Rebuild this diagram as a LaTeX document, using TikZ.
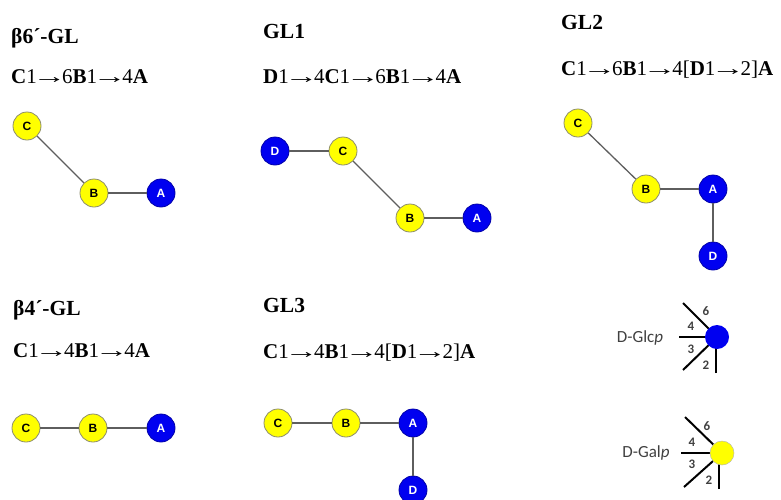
\documentclass[tikz,border=0pt]{standalone}
\usepackage{fontspec}
\setmainfont{Liberation Serif}
\newfontfamily\lblfont{Liberation Sans}
\newfontfamily\keyfont{Carlito}
\usepackage{xcolor}
\definecolor{glyellow}{HTML}{FFFF00}
\definecolor{glblue}  {HTML}{0000F0}
\definecolor{gledge}  {HTML}{8C8C6E}
\definecolor{gllink}  {HTML}{5E5E5E}
\definecolor{keytext} {HTML}{404040}
\newcommand\glto{\makebox[1.2em]{\scalebox{1.6}[1]{→}}}
\tikzset{
  gal/.style={circle, draw=gledge, fill=glyellow, text=black,
    minimum size=28pt, inner sep=0pt, line width=0.8pt,
    font=\lblfont\bfseries\fontsize{12}{12}\selectfont},
  glc/.style={gal, fill=glblue, draw=glblue!70!black, text=white},
  lnk/.style={draw=gllink, line width=1.3pt},
  ttl/.style={anchor=base west, inner sep=0pt,
    font=\bfseries\fontsize{21.5}{21.5}\selectfont},
  seq/.style={anchor=base west, inner sep=0pt, font=\fontsize{21}{21}\selectfont},
  keydot/.style={circle, minimum size=24pt, inner sep=0pt, fill=#1},
  keyarm/.style={draw=black, line width=2pt},
  keynum/.style={inner sep=0pt, text=keytext,
    font=\keyfont\bfseries\fontsize{13}{13}\selectfont},
  keyname/.style={inner sep=0pt, text=keytext, font=\keyfont\fontsize{17}{17}\selectfont},
}
\begin{document}
\begin{tikzpicture}[x=1pt, y=-1pt]
  \useasboundingbox (0,0) rectangle (781,499);
  % beta6'-GL
  \node[ttl] (t1) at (11,43) {β6´-GL};
  \node[seq] (s1) at (11,83) {\textbf{C}1\glto6\textbf{B}1\glto4\textbf{A}};
  \node[gal] (c1) at (27,126) {C};
  \node[gal] (b1) at (94,193) {B};
  \node[glc] (a1) at (161,193) {A};
  \draw[lnk] (c1) -- (b1);
  \draw[lnk] (b1) -- (a1);
  % GL1
  \node[ttl] (t2) at (263,38) {GL1};
  \node[seq] (s2) at (263,83) {\textbf{D}1\glto4\textbf{C}1\glto6\textbf{B}1\glto4\textbf{A}};
  \node[glc] (d2) at (275,151) {D};
  \node[gal] (c2) at (343,151) {C};
  \node[gal] (b2) at (410,218) {B};
  \node[glc] (a2) at (477,218) {A};
  \draw[lnk] (d2) -- (c2);
  \draw[lnk] (c2) -- (b2);
  \draw[lnk] (b2) -- (a2);
  % GL2
  \node[ttl] (t3) at (561,29) {GL2};
  \node[seq] (s3) at (561,75) {\textbf{C}1\glto6\textbf{B}1\glto4[\textbf{D}1\glto2]\textbf{A}};
  \node[gal] (c3) at (578,123) {C};
  \node[gal] (b3) at (646,189) {B};
  \node[glc] (a3) at (713,189) {A};
  \node[glc] (d3) at (713,256) {D};
  \draw[lnk] (c3) -- (b3);
  \draw[lnk] (b3) -- (a3);
  \draw[lnk] (a3) -- (d3);
  % beta4'-GL
  \node[ttl] (t4) at (13,315) {β4´-GL};
  \node[seq] (s4) at (13,357) {\textbf{C}1\glto4\textbf{B}1\glto4\textbf{A}};
  \node[gal] (c4) at (26,428) {C};
  \node[gal] (b4) at (93,428) {B};
  \node[glc] (a4) at (161,428) {A};
  \draw[lnk] (c4) -- (b4);
  \draw[lnk] (b4) -- (a4);
  % GL3
  \node[ttl] (t5) at (263,312) {GL3};
  \node[seq] (s5) at (263,358) {\textbf{C}1\glto4\textbf{B}1\glto4[\textbf{D}1\glto2]\textbf{A}};
  \node[gal] (c5) at (278,423) {C};
  \node[gal] (b5) at (346,423) {B};
  \node[glc] (a5) at (413,423) {A};
  \node[glc] (d5) at (413,490) {D};
  \draw[lnk] (c5) -- (b5);
  \draw[lnk] (b5) -- (a5);
  \draw[lnk] (a5) -- (d5);
  % key: D-Glcp
  \node[keyname] (glcname) at (640,338) {D-Glc\textit{p}};
  \coordinate (glc6) at (683,303);
  \coordinate (glc4) at (679,337);
  \coordinate (glc3) at (683,370);
  \coordinate (glc2) at (716,373);
  \coordinate (glc2top) at (716,337);
  \coordinate (glcdot) at (717,337);
  \draw[keyarm] (glc6) -- (glcdot);
  \draw[keyarm] (glc4) -- (glcdot);
  \draw[keyarm] (glc3) -- (glcdot);
  \draw[keyarm] (glc2) -- (glc2top);
  \node[keydot=glblue] (glcring) at (glcdot) {};
  \node[keynum] (glcn6) at (706,311) {6};
  \node[keynum] (glcn4) at (691,326) {4};
  \node[keynum] (glcn3) at (691,349) {3};
  \node[keynum] (glcn2) at (706,365) {2};
  % key: D-Galp
  \node[keyname] (galname) at (646,453) {D-Gal\textit{p}};
  \coordinate (gal6) at (685,417);
  \coordinate (gal4) at (681,453);
  \coordinate (gal3) at (684,487);
  \coordinate (gal2) at (719,489);
  \coordinate (gal2top) at (719,453);
  \coordinate (galdot) at (722,453);
  \draw[keyarm] (gal6) -- (galdot);
  \draw[keyarm] (gal4) -- (galdot);
  \draw[keyarm] (gal3) -- (galdot);
  \draw[keyarm] (gal2) -- (gal2top);
  \node[keydot=glyellow, draw=gledge!60, line width=0.5pt] (galring) at (galdot) {};
  \node[keynum] (galn6) at (707,426) {6};
  \node[keynum] (galn4) at (692,442) {4};
  \node[keynum] (galn3) at (692,464) {3};
  \node[keynum] (galn2) at (709,480) {2};
\end{tikzpicture}
\end{document}
